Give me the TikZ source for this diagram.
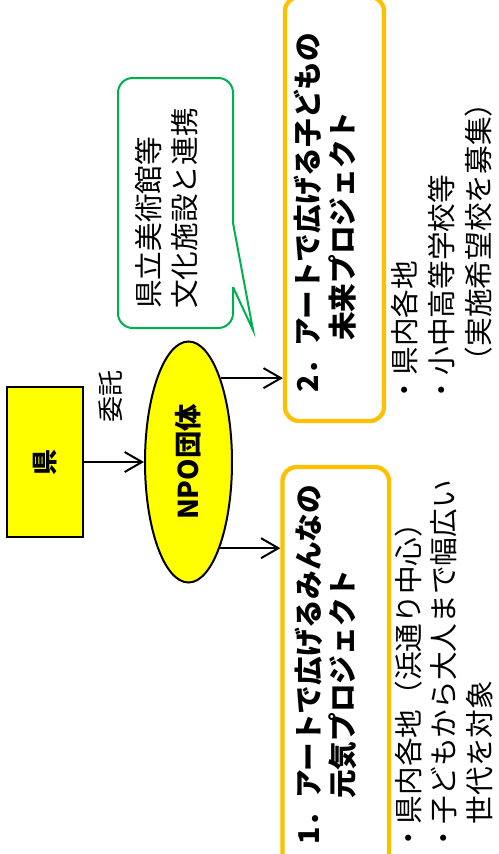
\documentclass[tikz,border=0pt]{standalone}
\usepackage{fontspec}
\usepackage{graphicx}
\setmainfont{Noto Sans CJK JP}
\usetikzlibrary{arrows.meta,shapes.geometric}
\definecolor{kyellow}{HTML}{FFFF00}
\definecolor{korange}{HTML}{FFC000}
\definecolor{kgreen}{HTML}{00B050}
\begin{document}
\begin{tikzpicture}[x=0.75pt,y=-0.75pt,
  kenbox/.style={draw=black, fill=kyellow, line width=1.5pt, minimum width=57pt, minimum height=113pt, inner sep=0pt, font=\bfseries\fontsize{19.5pt}{22pt}\selectfont},
  npoell/.style={ellipse, draw=black, fill=kyellow, line width=1.5pt, minimum width=65.25pt, minimum height=180.75pt, inner sep=0pt, font=\bfseries\fontsize{20.5pt}{22pt}\selectfont},
  projbox/.style={draw=korange, line width=3.2pt, rounded corners=10.5pt, inner sep=0pt},
  callline/.style={draw=kgreen, line width=1.5pt},
  rtxt/.style={rotate=90, anchor=west, inner sep=0pt, text height=0.88em, text depth=0.12em, font=\fontsize{21.5pt}{26pt}\selectfont},
  btxt/.style={rtxt, font=\bfseries\fontsize{21.5pt}{26pt}\selectfont},
  arr/.style={-{Straight Barb[length=13pt,width=15pt]}, line width=1.5pt, draw=black}
]
\useasboundingbox (0,0) rectangle (499,854);
\clip (0,0) rectangle (499,854);

% main shapes
\node[kenbox] (ken) at (45,462) {\rotatebox{90}{県}};
\node[npoell] (npo) at (188.5,462) {\rotatebox{90}{NPO団体}};
\node[projbox, minimum width=74.25pt, minimum height=318pt] (box2) at (334.5,209) {};
\node[projbox, minimum width=79.9pt, minimum height=324.75pt] (box1) at (335.75,683.5) {};

% callout
\draw[callline] (233,223) -- (253,330) -- (233,287);
\draw[callline, rounded corners=11pt] (233,287) -- (233,328) -- (118,328) -- (118,78) -- (233,78) -- (233,223);
\node[rtxt] (c1) at (154.5,309) {県立美術館等};
\node[rtxt] (c2) at (190,309) {文化施設と連携};

% connectors
\draw[arr] (ken.east) -- (npo.west);
\node[rotate=90, inner sep=0pt, font=\fontsize{19.5pt}{22pt}\selectfont] (itaku) at (110.5,396) {委託};
\draw[arr] (npo.69.6) -- (npo.69.6 -| box2.west);
\draw[arr] (npo.-70.1) -- (npo.-70.1 -| box1.west);

% project 2
\node[btxt] (p2a) at (313.5,393) {2．アートで広げる子どもの};
\node[btxt] (p2b) at (348.5,341) {未来プロジェクト};
\node[rtxt] (p2c) at (410.5,404.5) {・県内各地};
\node[rtxt] (p2d) at (447.5,404.5) {・小中高等学校等};
\node[rtxt] (p2e) at (484.5,375.5) {（実施希望校を募集）};

% project 1
\node[btxt] (p1a) at (314,845) {1．アートで広げるみんなの};
\node[btxt] (p1b) at (348,799) {元気プロジェクト};
\node[rtxt] (p1c) at (414,853) {・県内各地（浜通り中心）};
\node[rtxt] (p1d) at (449,853) {・子どもから大人まで幅広い};
\node[rtxt] (p1e) at (485,824.5) {世代を対象};
\end{tikzpicture}
\end{document}
